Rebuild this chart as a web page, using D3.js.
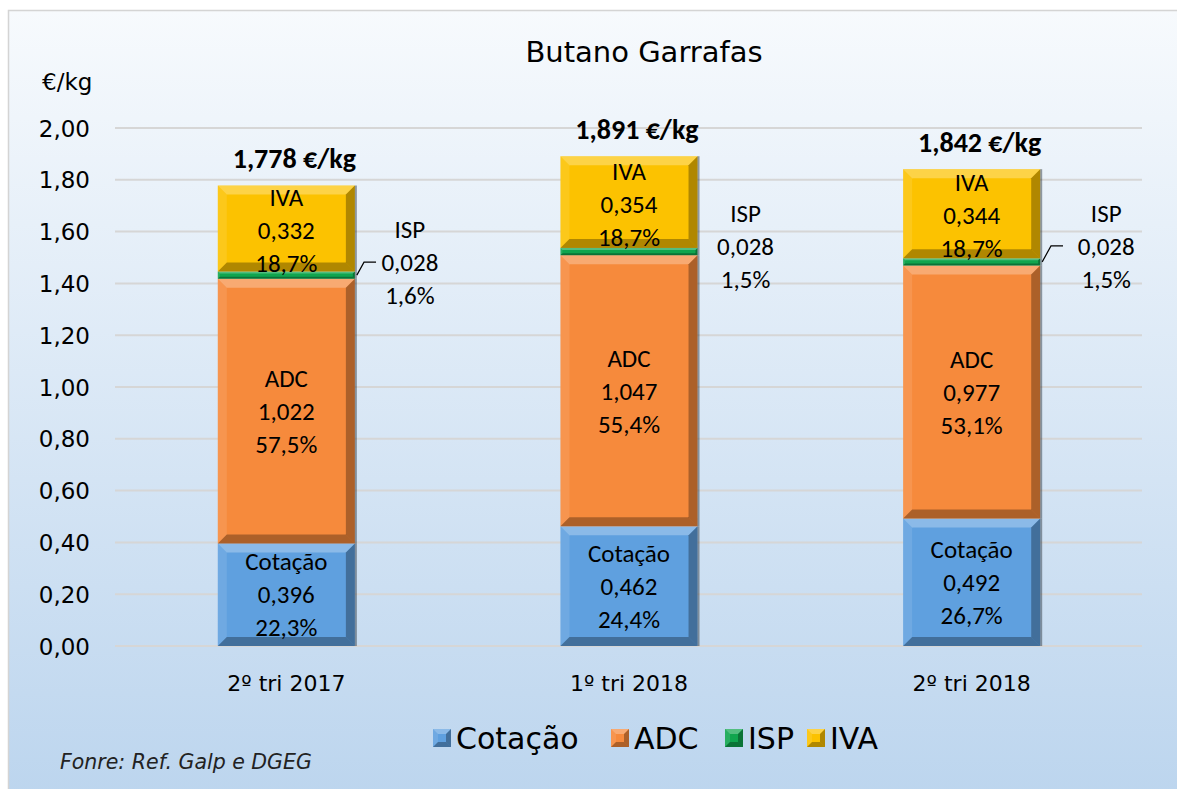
<!DOCTYPE html>
<html>
<head>
<meta charset="utf-8">
<script src="https://cdn.jsdelivr.net/npm/d3@7"></script>
<style>
  body { margin: 0; background: #fff; }
  svg { display: block; }
</style>
</head>
<body>
<div id="chart"></div>
<script>
// data
var quarters = ["2º tri 2017", "1º tri 2018", "2º tri 2018"];
var seriesNames = ["Cotação", "ADC", "ISP", "IVA"];
var cotacao = [0.396, 0.462, 0.492];
var adc = [1.022, 1.047, 0.977];
var isp = [0.028, 0.028, 0.028];
var iva = [0.332, 0.354, 0.344];
var cotacaoPct = ["22,3%", "24,4%", "26,7%"];
var adcPct = ["57,5%", "55,4%", "53,1%"];
var ispPct = ["1,6%", "1,5%", "1,5%"];
var ivaPct = ["18,7%", "18,7%", "18,7%"];
var totals = [1.778, 1.891, 1.842];
var yTicks = [0, 0.2, 0.4, 0.6, 0.8, 1.0, 1.2, 1.4, 1.6, 1.8, 2.0];

var W = 1177, H = 789;
var gothic = "'DejaVu Sans', sans-serif";
var calibri = "Carlito, Lato, 'Open Sans', sans-serif";
var colors = {"Cotação": "#5fa0df", "ADC": "#f68a3c", "ISP": "#10a54e", "IVA": "#fcc200"};

var svg = d3.select("#chart").append("svg").attr("width", W).attr("height", H);
var defs = svg.append("defs");
var bg = defs.append("linearGradient").attr("id", "bg").attr("x1", 0).attr("y1", 0).attr("x2", 0).attr("y2", 1);
bg.append("stop").attr("offset", "0%").attr("stop-color", "#f7fafd");
bg.append("stop").attr("offset", "100%").attr("stop-color", "#bcd5ee");

svg.append("rect").attr("x", 8.5).attr("y", 10.5).attr("width", W).attr("height", H)
  .attr("fill", "url(#bg)").attr("stroke", "#d4d4d4").attr("stroke-width", 1.5);

var x = d3.scaleBand().domain(quarters).range([115, 1143]).paddingInner(0.6).paddingOuter(0.3);
var y = d3.scaleLinear().domain([0, 2]).range([646, 128]);

// grid
svg.append("g").selectAll("line").data(yTicks).enter().append("line")
  .attr("x1", 115).attr("x2", 1142)
  .attr("y1", function(d){ return y(d); }).attr("y2", function(d){ return y(d); })
  .attr("stroke", "#d6d6d6").attr("stroke-width", 2);

// y axis labels
var yAxis = d3.axisLeft(y).tickValues(yTicks).tickSize(0).tickPadding(0)
  .tickFormat(function(d){ return d3.format(".2f")(d).replace(".", ","); });
var ya = svg.append("g").attr("transform", "translate(90,0)").call(yAxis);
ya.select(".domain").remove();
ya.selectAll("text").attr("font-family", gothic).attr("font-size", 23).attr("fill", "#000").attr("text-anchor", "end").attr("dy", "0.35em");

svg.append("text").attr("x", 42).attr("y", 90).attr("font-family", gothic).attr("font-size", 23).text("€/kg");

// x axis labels
var xAxis = d3.axisBottom(x).tickSize(0).tickPadding(0);
var xa = svg.append("g").attr("transform", "translate(0,683)").call(xAxis);
xa.select(".domain").remove();
xa.selectAll("text").attr("font-family", gothic).attr("font-size", 22).attr("fill", "#000").attr("dy", "0.35em");

// title
svg.append("text").attr("x", 644).attr("y", 62).attr("text-anchor", "middle")
  .attr("font-family", gothic).attr("font-size", 29).text("Butano Garrafas");

// stacked data
var rows = quarters.map(function(q, i){
  return {q: q, "Cotação": cotacao[i], "ADC": adc[i], "ISP": isp[i], "IVA": iva[i]};
});
var pcts = {"Cotação": cotacaoPct, "ADC": adcPct, "ISP": ispPct, "IVA": ivaPct};
var stack = d3.stack().keys(seriesNames)(rows);

function bevel(g, x0, y0, w, h, b) {
  var x1 = x0 + w, y1 = y0 + h;
  b = Math.min(b, h / 2);
  var parts = [
    {p: [[x0,y0],[x1,y0],[x1-b,y0+b],[x0+b,y0+b]], c: "#fff", o: 0.28},
    {p: [[x0,y0],[x0+b,y0+b],[x0+b,y1-b],[x0,y1]], c: "#fff", o: 0.1},
    {p: [[x1,y0],[x1,y1],[x1-b,y1-b],[x1-b,y0+b]], c: "#000", o: 0.3},
    {p: [[x0,y1],[x0+b,y1-b],[x1-b,y1-b],[x1,y1]], c: "#000", o: 0.3}
  ];
  g.selectAll(null).data(parts).enter().append("polygon")
    .attr("points", function(d){ return d.p.map(function(pt){ return pt.join(","); }).join(" "); })
    .attr("fill", function(d){ return d.c; }).attr("fill-opacity", function(d){ return d.o; });
}

var bars = svg.append("g");
stack.forEach(function(layer){
  var key = layer.key;
  layer.forEach(function(d, i){
    var bx = x(quarters[i]), bw = x.bandwidth();
    var top = y(d[1]), h = y(d[0]) - y(d[1]);
    var g = bars.append("g");
    g.append("rect").attr("x", bx).attr("y", top).attr("width", bw).attr("height", h).attr("fill", colors[key]);
    bevel(g, bx, top, bw, h, key === "ISP" ? 2 : 9);
    g.append("line").attr("x1", bx + bw + 1).attr("x2", bx + bw + 1).attr("y1", top).attr("y2", top + h)
      .attr("stroke", "#1f2a33").attr("stroke-opacity", 0.45).attr("stroke-width", 2);
  });
});

// labels inside segments
var lab = svg.append("g").attr("font-family", calibri).attr("font-size", 25).attr("text-anchor", "middle").attr("fill", "#000");
stack.forEach(function(layer){
  var key = layer.key;
  if (key === "ISP") return;
  layer.forEach(function(d, i){
    var cx = x(quarters[i]) + x.bandwidth() / 2;
    var cy = (y(d[0]) + y(d[1])) / 2 + (key === "IVA" ? 2 : 0);
    var lines = [key, d3.format(".3f")(d.data[key]).replace(".", ","), pcts[key][i]];
    lines.forEach(function(t, k){
      lab.append("text").attr("x", cx).attr("y", cy + (k - 1) * 33).attr("dy", "0.35em").text(t);
    });
  });
});

// ISP labels to the right, with leader lines
var ispLayer = stack[2];
var ispDy = [-13, -5, -16];
var ispDx = [55, 48, 66];
ispLayer.forEach(function(d, i){
  var right = x(quarters[i]) + x.bandwidth();
  var lx = right + ispDx[i];
  var mid = (y(d[0]) + y(d[1])) / 2;
  var cy = mid + ispDy[i];
  var lines = ["ISP", d3.format(".3f")(d.data.ISP).replace(".", ","), ispPct[i]];
  lines.forEach(function(t, k){
    lab.append("text").attr("x", lx).attr("y", cy + (k - 1) * 33).attr("dy", "0.35em").text(t);
  });
  if (i !== 1) {
    var ly = cy;
    svg.append("polyline")
      .attr("points", [[right + 2, mid], [right + 2 + (mid - ly) * 0.55, ly], [right + 14 + (mid - ly) * 0.55, ly]].map(function(p){ return p.join(","); }).join(" "))
      .attr("fill", "none").attr("stroke", "#000").attr("stroke-width", 1.2);
  }
});

// totals
svg.append("g").selectAll("text").data(totals).enter().append("text")
  .attr("x", function(d, i){ return x(quarters[i]) + x.bandwidth() / 2 + 8; })
  .attr("y", function(d){ return y(d) - 27; })
  .attr("dy", "0.35em").attr("text-anchor", "middle")
  .attr("font-family", calibri).attr("font-size", 28).attr("font-weight", "bold")
  .text(function(d){ return d3.format(".3f")(d).replace(".", ",") + " €/kg"; });

// legend
var legX = [433, 611, 725, 807];
var leg = svg.append("g");
seriesNames.forEach(function(n, i){
  var g = leg.append("g");
  g.append("rect").attr("x", legX[i]).attr("y", 729).attr("width", 18).attr("height", 18).attr("fill", colors[n]);
  bevel(g, legX[i], 729, 18, 18, 5);
  g.append("text").attr("x", legX[i] + 23).attr("y", 738).attr("dy", "0.35em")
    .attr("font-family", gothic).attr("font-size", 30).text(n);
});

// source
svg.append("text").attr("x", 60).attr("y", 769).attr("font-family", gothic).attr("font-style", "italic")
  .attr("font-size", 20.5).attr("fill", "#222").text("Fonre: Ref. Galp e DGEG");
</script>
</body>
</html>
